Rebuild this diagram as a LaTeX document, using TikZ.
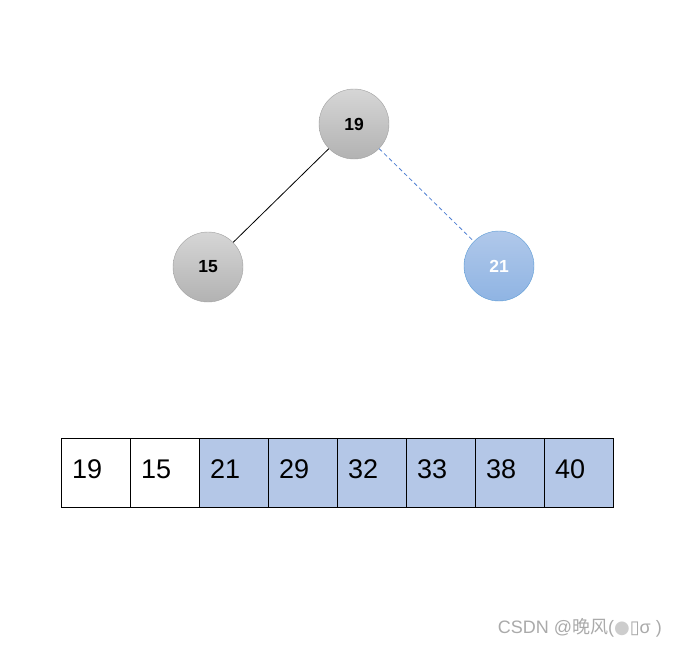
\documentclass[tikz,border=0pt]{standalone}
\usepackage{fontspec}
\setmainfont{Liberation Sans}
\newfontfamily\cjk{Noto Sans CJK SC}
\newfontfamily\dvs{DejaVu Sans}
\usetikzlibrary{shadings}
\definecolor{cellblue}{RGB}{180,199,231}
\definecolor{blueedge}{RGB}{91,155,213}
\definecolor{dashblue}{RGB}{80,128,210}
\tikzset{
  graynode/.style={circle,minimum size=70pt,inner sep=0pt,draw={rgb,255:red,160;green,160;blue,160},
    top color={rgb,255:red,214;green,214;blue,214},bottom color={rgb,255:red,178;green,178;blue,178},
    font=\fontsize{17.5}{19}\selectfont\bfseries, text=black},
  bluenode/.style={circle,minimum size=70pt,inner sep=0pt,draw=blueedge,
    top color={rgb,255:red,176;green,200;blue,234},bottom color={rgb,255:red,143;green,180;blue,227},
    font=\fontsize{17.5}{19}\selectfont\bfseries, text=white},
  cell/.style={draw=black,minimum width=69pt,minimum height=69pt,inner xsep=11pt,inner ysep=0pt,anchor=north west,
    text width=47pt, text height=20pt, text depth=8pt, align=left, font=\fontsize{27}{29}\selectfont},
  whitecell/.style={cell,fill=white},
  bluecell/.style={cell,fill=cellblue},
}
\begin{document}
\begin{tikzpicture}[x=1pt,y=-1pt]
\useasboundingbox (0,0) rectangle (676,648);
\fill[white] (0,0) rectangle (676,648);
\node[graynode] (n19) at (354,124) {19};
\node[graynode] (n15) at (208,267) {15};
\node[bluenode] (n21) at (499,266) {21};
\draw[black,line width=0.8pt] (n19) -- (n15);
\draw[dashblue,dash pattern=on 4pt off 3pt,line width=0.8pt] (n19) -- (n21);
\node[whitecell] (c1) at (61,438) {19};
\node[whitecell] (c2) at (130,438) {15};
\node[bluecell] (c3) at (199,438) {21};
\node[bluecell] (c4) at (268,438) {29};
\node[bluecell] (c5) at (337,438) {32};
\node[bluecell] (c6) at (406,438) {33};
\node[bluecell] (c7) at (475,438) {38};
\node[bluecell] (c8) at (544,438) {40};
\node[anchor=east,text={rgb,255:red,170;green,170;blue,170},font=\fontsize{18}{20}\selectfont,inner sep=0pt] (wm) at (662,628) {CSDN @{\cjk 晚风}({\dvs\color[RGB]{205,205,205}●\color[RGB]{170,170,170}▯}σ )};
\end{tikzpicture}
\end{document}
